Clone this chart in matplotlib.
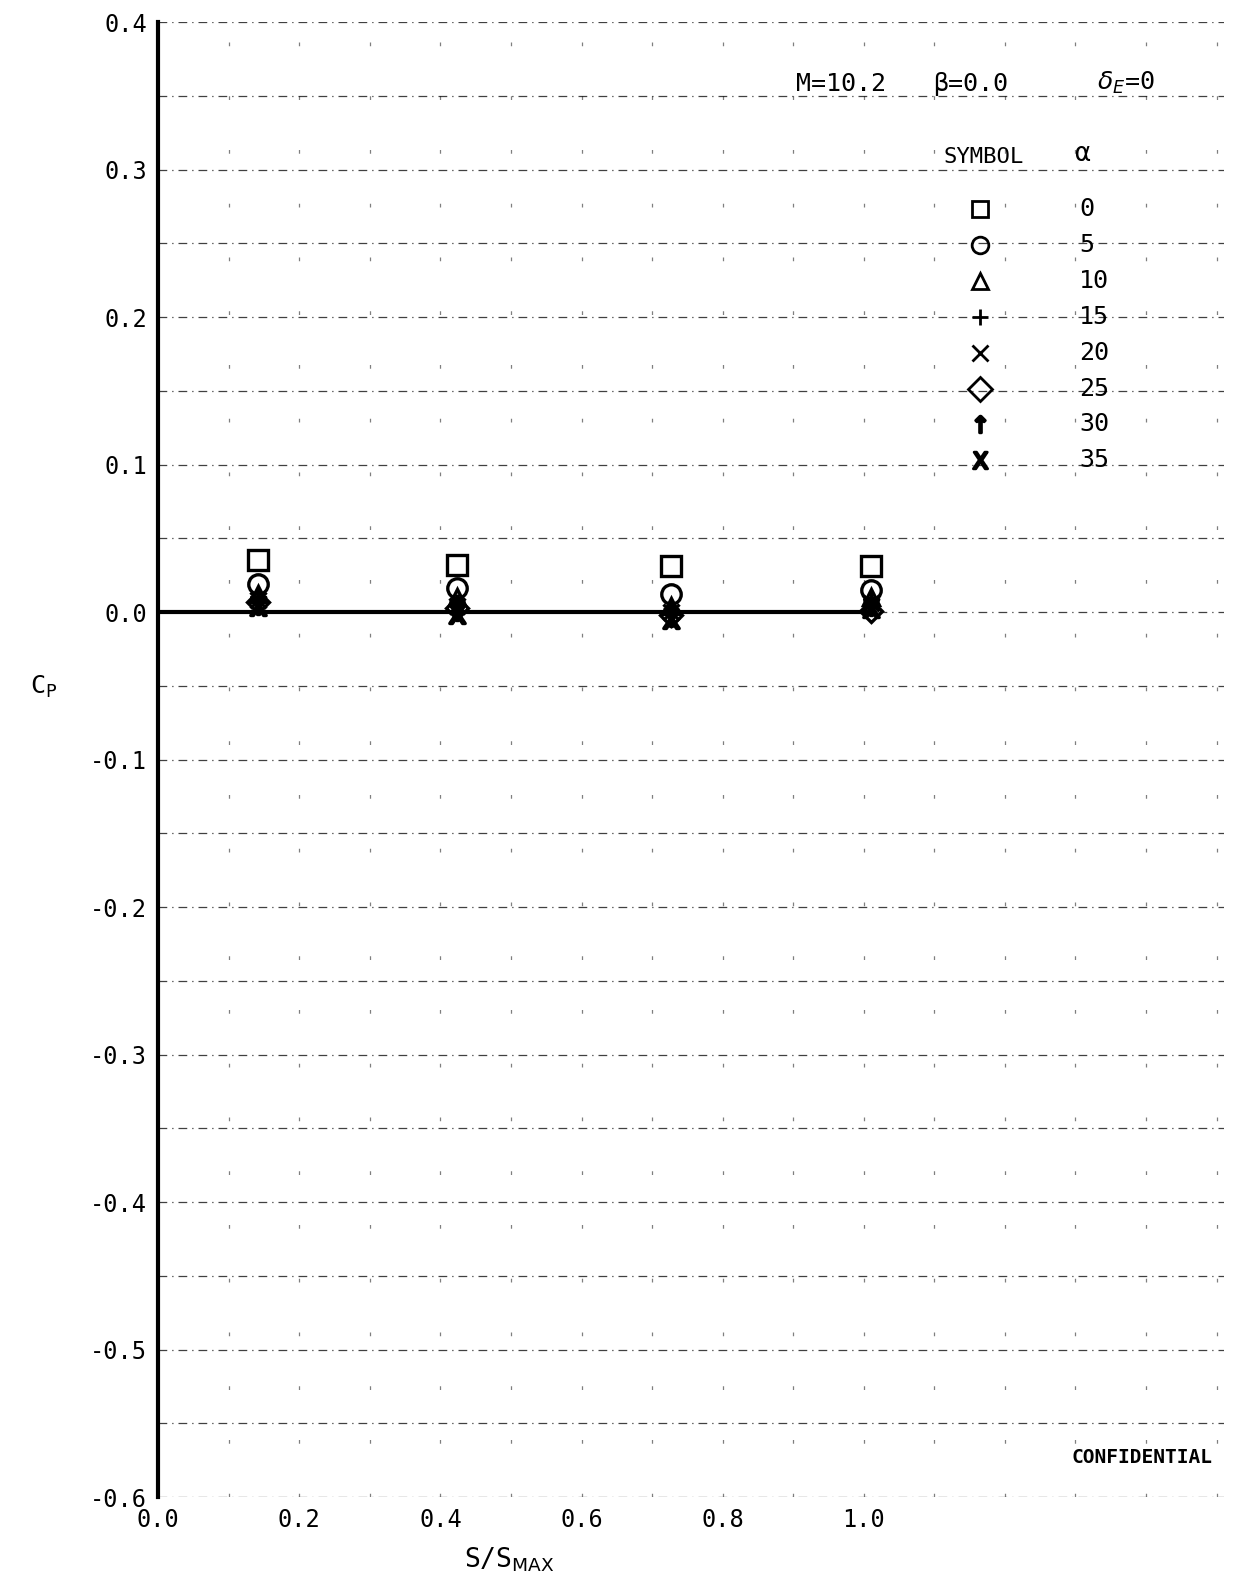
import matplotlib
matplotlib.use("Agg")
import matplotlib.pyplot as plt
import numpy as np

# Data
s_smax = [0.141, 0.423, 0.727, 1.01]
alphas = [0, 5, 10, 15, 20, 25, 30, 35]
cp = {
    0:  [0.035, 0.032, 0.031, 0.031],
    5:  [0.019, 0.016, 0.012, 0.015],
    10: [0.012, 0.010, 0.004, 0.010],
    15: [0.010, 0.007, 0.002, 0.008],
    20: [0.008, 0.004, 0.000, 0.006],
    25: [0.007, 0.003, -0.002, 0.001],
    30: [0.005, 0.001, -0.003, 0.004],
    35: [0.004, -0.001, -0.005, 0.003],
}
markers = ['s', 'o', '^', '+', 'x', 'D', r'$\uparrow$', r'$\mathsf{X}$']
xticks = [0.0, 0.2, 0.4, 0.6, 0.8, 1.0]
yticks = [0.4, 0.3, 0.2, 0.1, 0.0, -0.1, -0.2, -0.3, -0.4, -0.5, -0.6]

plt.rcParams['font.family'] = ['DejaVu Sans Mono', 'DejaVu Sans']

fig = plt.figure(figsize=(12.36, 15.8), dpi=100)
ax = fig.add_axes([0.128, 0.0525, 0.862, 0.9335])
ax.set_xlim(0, 1.51)
ax.set_ylim(-0.6, 0.4)

# grid lines
for y in np.arange(-0.6, 0.401, 0.05):
    ax.axhline(y, color='black', lw=0.9, ls=(0, (7, 4, 1, 4)), alpha=0.75, zorder=0)
for x in np.arange(0.1, 1.52, 0.1):
    ax.axvline(x, color='black', lw=0.9, ls=(0, (3, 40)), alpha=0.5, zorder=0)

ax.plot([0, s_smax[-1]], [0, 0], color='black', lw=3, zorder=1)

filled_set = (r'$\uparrow$', r'$\mathsf{X}$', '+', 'x')
sizes = [15, 14, 12, 12, 11, 11, 13, 13]
for a, m, sz in zip(alphas, markers, sizes):
    filled = m in filled_set
    ax.plot(s_smax, cp[a], ls='none', marker=m, ms=sz,
            mfc='none' if not filled else 'black', mec='black', mew=2.4, zorder=3)

# legend block
ax.text(0.967, 0.350, 'M=10.2', fontsize=18, ha='center', va='bottom')
ax.text(1.152, 0.350, 'β=0.0', fontsize=18, ha='center', va='bottom')
ax.text(1.372, 0.350, r'$\delta_E$=0', fontsize=18, ha='center', va='bottom')
ax.text(1.17, 0.302, 'SYMBOL', fontsize=16, ha='center', va='bottom')
ax.text(1.31, 0.302, 'α', fontsize=19, ha='center', va='bottom')
for i, (a, m) in enumerate(zip(alphas, markers)):
    yy = 0.273 - 0.0243 * i
    filled = m in filled_set
    ax.plot([1.164], [yy], ls='none', marker=m, ms=12, mfc='none' if not filled else 'black',
            mec='black', mew=2, clip_on=False)
    ax.text(1.305, yy, str(a), fontsize=18, ha='left', va='center')

ax.text(1.395, -0.573, 'CONFIDENTIAL', fontsize=14, ha='center', va='center', fontweight='bold')

ax.set_xticks(xticks)
ax.set_xticklabels([f'{v:.1f}' for v in xticks], fontsize=17)
ax.set_yticks(yticks)
ax.set_yticklabels([f'{v:.1f}' for v in yticks], fontsize=17)
ax.tick_params(length=0, pad=8)

for side in ('top', 'right', 'bottom'):
    ax.spines[side].set_visible(False)
ax.spines['left'].set_linewidth(3)

fig.text(0.412, 0.013, r'S/S$_{\mathsf{MAX}}$', fontsize=19, ha='center', va='center')
fig.text(0.035, 0.565, r'C$_\mathsf{P}$', fontsize=18, ha='center', va='center')

fig.savefig('out.png', dpi=100)
